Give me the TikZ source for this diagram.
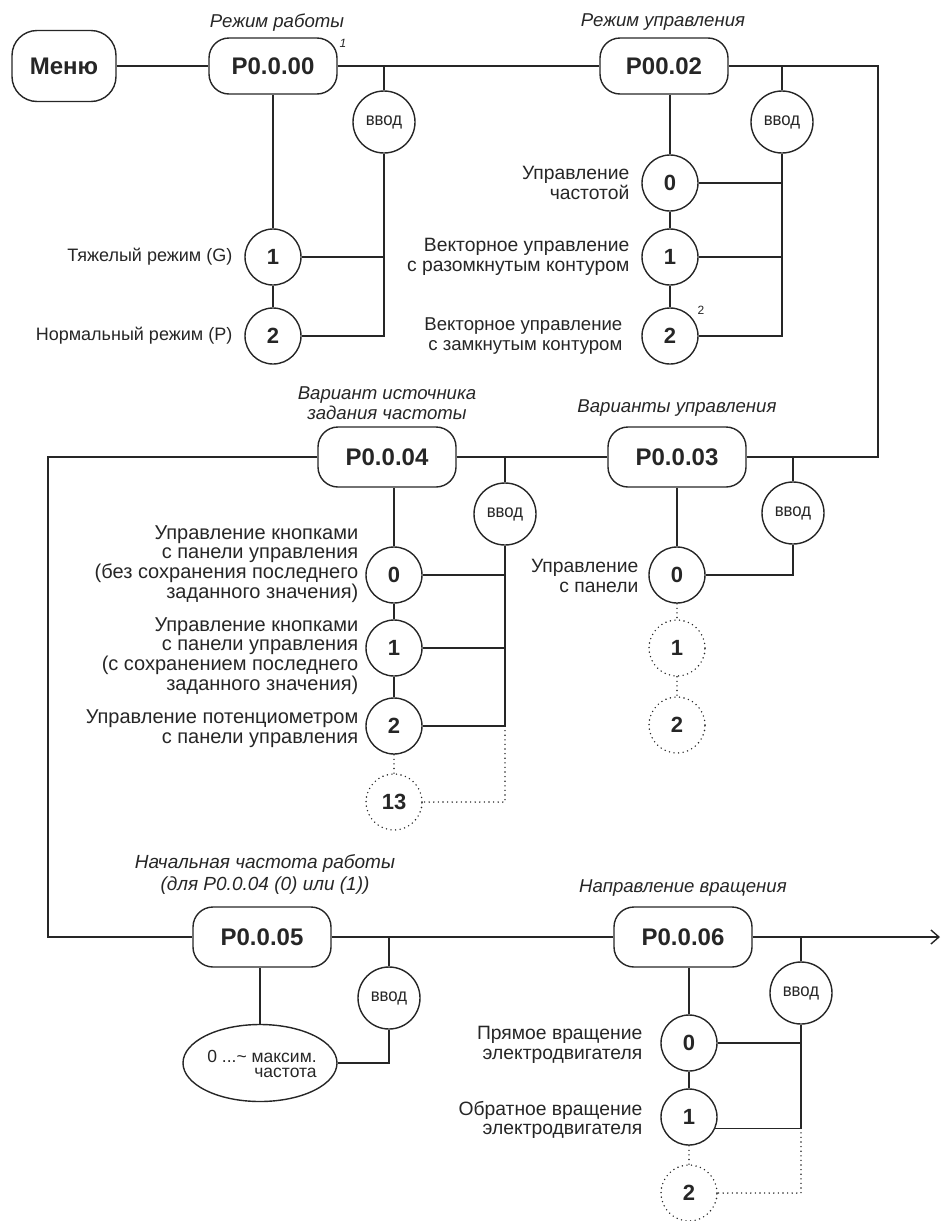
\documentclass[tikz,border=0pt]{standalone}
\usepackage{fontspec}
\setmainfont{Liberation Sans}
\usetikzlibrary{shapes.geometric,arrows.meta}
\definecolor{ink}{HTML}{262626}
\begin{document}
\begin{tikzpicture}[x=1pt,y=-1pt, line width=1.4pt, color=ink,
  pbox/.style={draw, rounded corners=20pt, line width=1.4pt, inner sep=0pt,
     minimum width=138pt, minimum height=60pt, font=\fontsize{24}{28}\selectfont\bfseries},
  optc/.style={draw, circle, line width=1.4pt, inner sep=0pt, minimum size=56pt,
     font=\fontsize{22}{26}\selectfont\bfseries},
  dotc/.style={optc, draw=none},
  dotl/.style={line width=1.6pt, dash pattern=on 0pt off 4.6pt, line cap=round},
  vvod/.style={draw, circle, line width=1.4pt, inner sep=0pt, minimum size=62pt,
     font=\fontsize{18}{20}\selectfont},
  lbl/.style={anchor=east, align=right, inner sep=0pt, font=\fontsize{18}{19.8}\selectfont},
  lblm/.style={lbl, font=\fontsize{19.3}{19.6}\selectfont},
  lblw/.style={lbl, font=\fontsize{20}{19.7}\selectfont},
  capt/.style={align=center, inner sep=0pt, font=\fontsize{18.6}{20.5}\selectfont\itshape},
  supn/.style={inner sep=0pt, font=\fontsize{12}{14}\selectfont}
]
\useasboundingbox (0,0) rectangle (942,1221);
\newcommand{\vv}{\scalebox{0.93}[1]{ввод}}

% ---------- row 1 ----------
\node[pbox, minimum width=104pt, minimum height=71pt, rounded corners=25pt] (menu) at (64,66) {Меню};
\node[pbox, minimum width=128pt, minimum height=56pt] (p000) at (273,66) {P0.0.00};
\node[pbox, minimum width=128pt, minimum height=56pt] (p002) at (664,66) {P00.02};
\node[capt] (t000) at (277,23) {Режим работы};
\node[supn, font=\fontsize{12}{14}\selectfont\itshape] (s1) at (343,43) {1};
\node[capt] (t002) at (663,22) {Режим управления};

\node[vvod] (v1) at (384,122) {\vv};
\node[optc] (a1) at (273,257) {1};
\node[optc] (a2) at (273,336) {2};
\node[lbl] (la1) at (233,257) {Тяжелый режим (G)};
\node[lbl] (la2) at (233,336) {Нормальный режим (P)};

\draw (menu) -- (p000);
\draw (p000) -- (p002);
\draw (v1.north) -- (v1 |- p000);
\draw (p000) -- (a1);
\draw (a1) -- (a2);
\draw (a1.east) -- (a1 -| v1);
\draw (v1.south) -- (v1 |- a2) -- (a2.east);

\node[vvod] (v2) at (782,122) {\vv};
\node[optc] (b0) at (670,183) {0};
\node[optc] (b1) at (670,257) {1};
\node[optc] (b2) at (670,336) {2};
\node[supn] (s2) at (701,310) {2};
\node[lblm] (lb0) at (630,183) {Управление\\частотой};
\node[lblm] (lb1) at (630,257) {Векторное управление\\с разомкнутым контуром};
\node[lbl, font=\fontsize{18.6}{19.6}\selectfont] (lb2) at (623,336) {Векторное управление\\с замкнутым контуром};

\draw (b0.north) -- (b0 |- p002.south);
\draw (b0) -- (b1);
\draw (b1) -- (b2);
\draw (v2.north) -- (v2 |- p002);
\draw (b0.east) -- (b0 -| v2);
\draw (b1.east) -- (b1 -| v2);
\draw (v2.south) -- (v2 |- b2) -- (b2.east);

% ---------- row 2 ----------
\node[pbox] (p004) at (387,457) {P0.0.04};
\node[pbox] (p003) at (677,457) {P0.0.03};
\node[capt] (t004) at (387,403) {Вариант источника\\задания частоты};
\node[capt] (t003) at (677,408) {Варианты управления};

\coordinate (r1) at (878,66);
\coordinate (r2) at (878,457);
\draw (p002.east) -- (r1) -- (r2) -- (p003.east);
\draw (p004) -- (p003);

\node[vvod] (v3) at (505,514) {\vv};
\node[optc] (c0) at (394,575) {0};
\node[optc] (c1) at (394,648) {1};
\node[optc] (c2) at (394,726) {2};
\node[dotc] (c13) at (394,802) {13};
\draw[dotl] (c13) circle[radius=28pt];
\node[lblw] (lc0) at (359,564) {Управление кнопками\\с панели управления\\(без сохранения последнего\\заданного значения)};
\node[lblw] (lc1) at (359,656) {Управление кнопками\\с панели управления\\(с сохранением последнего\\заданного значения)};
\node[lblw] (lc2) at (359,729) {Управление потенциометром\\с панели управления};

\draw (c0.north) -- (c0 |- p004.south);
\draw (c0) -- (c1);
\draw (c1) -- (c2);
\draw[dotl] (c2.south) -- (c13.north);
\draw (v3.north) -- (v3 |- p004);
\draw (c0.east) -- (c0 -| v3);
\draw (c1.east) -- (c1 -| v3);
\draw (v3.south) -- (v3 |- c2) -- (c2.east);
\draw[dotl] (v3 |- c2) -- (v3 |- c13) -- (c13.east);

\node[vvod] (v4) at (793,513) {\vv};
\node[optc] (d0) at (677,575) {0};
\node[dotc] (d1) at (677,648) {1};
\node[dotc] (d2) at (677,725) {2};
\draw[dotl] (d1) circle[radius=28pt];
\draw[dotl] (d2) circle[radius=28pt];
\node[lblm] (ld0) at (639,576) {Управление\\с панели};
\draw (d0.north) -- (p003.south);
\draw (v4.north) -- (v4 |- p003);
\draw (d0.east) -- (d0 -| v4) -- (v4.south);
\draw[dotl] (d0.south) -- (d1.north);
\draw[dotl] (d1.south) -- (d2.north);

% ---------- row 3 ----------
\node[pbox] (p005) at (262,937) {P0.0.05};
\node[pbox] (p006) at (683,937) {P0.0.06};
\node[capt, font=\fontsize{19}{22}\selectfont\itshape] (t005) at (265,874) {Начальная частота работы\\(для P0.0.04 (0) или (1))};
\node[capt] (t006) at (683,888) {Направление вращения};

\coordinate (l1) at (48,457);
\coordinate (l2) at (48,937);
\draw (p004.west) -- (l1) -- (l2) -- (p005.west);
\draw (p005) -- (p006);
\coordinate (arr) at (940,937);
\draw[-{Straight Barb[length=8pt,width=14pt]}] (p006.east) -- (arr);

\node[draw, ellipse, line width=1.4pt, inner sep=0pt, minimum width=154pt, minimum height=77pt] (e5) at (260,1063) {};
\node[align=right, inner sep=0pt, font=\fontsize{17.5}{15.5}\selectfont] (e5t) at (262,1064)
  {0 ...\string~ максим.\\частота};
\node[vvod] (v5) at (389,998) {\vv};
\draw (e5.north) -- (e5 |- p005.south);
\draw (v5.north) -- (v5 |- p005);
\draw (v5.south) -- (v5 |- e5) -- (e5.east);

\node[vvod] (v6) at (801,993) {\vv};
\node[optc] (f0) at (689,1043) {0};
\node[optc] (f1) at (689,1117) {1};
\node[dotc] (f2) at (689,1193) {2};
\draw[dotl] (f2) circle[radius=28pt];
\node[lblm] (lf0) at (643,1045) {Прямое вращение\\электродвигателя};
\node[lblm] (lf1) at (643,1120) {Обратное вращение\\электродвигателя};

\draw (f0.north) -- (f0 |- p006.south);
\draw (f0) -- (f1);
\draw[dotl] (f1.south) -- (f2.north);
\draw (v6.north) -- (v6 |- p006);
\draw (f0.east) -- (f0 -| v6);
\coordinate (g1) at (f1.-23 -| v6);
\draw (v6.south) -- (g1) -- (f1.-23);
\draw[dotl] (g1) -- (v6 |- f2) -- (f2.east);
\end{tikzpicture}
\end{document}
